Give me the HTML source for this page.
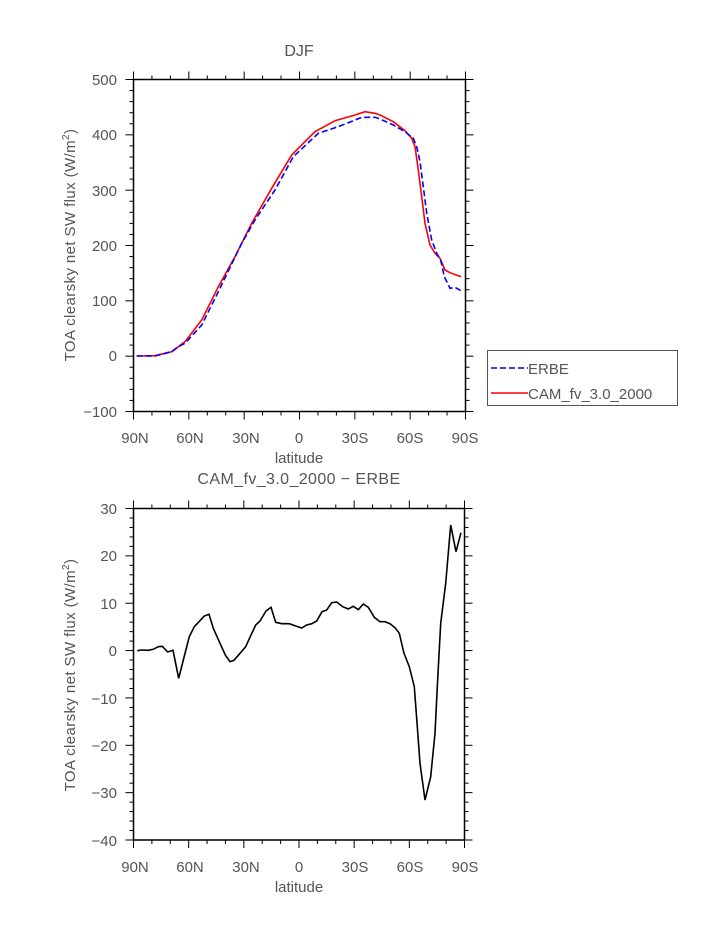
<!DOCTYPE html>
<html><head><meta charset="utf-8"><style>
html,body{margin:0;padding:0;background:#fff;}
svg{display:block;}
text{font-family:"Liberation Sans",sans-serif;fill:#555;}
</style></head><body>
<svg width="723" height="935" viewBox="0 0 723 935" xmlns="http://www.w3.org/2000/svg">
<g id="top">
<text x="299" y="56" font-size="16" text-anchor="middle">DJF</text>
<rect x="133.5" y="79.5" width="332" height="332" fill="none" stroke="#000" stroke-width="1.5"/>
<g font-size="15" text-anchor="end">
<text x="117" y="85">500</text><text x="117" y="140">400</text><text x="117" y="196">300</text>
<text x="117" y="251">200</text><text x="117" y="306">100</text><text x="117" y="361">0</text><text x="117" y="417">−100</text>
</g>
<g font-size="15" text-anchor="middle">
<text x="135" y="443">90N</text><text x="190" y="443">60N</text><text x="246" y="443">30N</text>
<text x="299" y="443">0</text><text x="355" y="443">30S</text><text x="410" y="443">60S</text><text x="465" y="443">90S</text>
<text x="299" y="463">latitude</text>
</g>
<text transform="translate(75,245) rotate(-90)" font-size="15" letter-spacing="0.4" text-anchor="middle">TOA clearsky net SW flux (W/m<tspan font-size="10" dy="-6">2</tspan><tspan dy="6">)</tspan></text>
<polyline fill="none" stroke="#ff0000" stroke-width="1.6" points="136.7,356 155,355.7 171.7,351.7 185,341.7 201.7,320 218.3,286.7 235,256.7 251.7,223.3 271.7,188.3 291.7,155 315,131.7 335,120.7 355,115 365,111.7 375,113.3 380,115 393.3,121.7 405,130.7 411.7,138.3 415,146.7 418.3,170 421.7,196.7 425,223.3 430,245 435,253.3 440,258.3 445,270 450,272.7 461,276.7"/>
<polyline fill="none" stroke="#0000ff" stroke-width="1.6" stroke-dasharray="6,3" points="136.7,356 155,356 171.7,351.7 178.3,346.7 185,343.3 201.7,325 218.3,291.7 241.7,243.3 255,220 275,190 293.3,156.7 318.3,133.3 338.3,126.7 361.7,117.3 375,117.3 380,119 393.3,125 405,131.7 413.3,138.3 416.7,146.7 420,161.7 423.3,186.7 426.7,213.3 431.7,240 436.7,253.3 440.7,260 444.3,276.7 450,288.3 455,287.3 461,290.7"/>
<rect x="487.5" y="350.5" width="190" height="55" fill="#fff" stroke="#555" stroke-width="1"/>
<line x1="491" y1="368" x2="528" y2="368" stroke="#0000ff" stroke-width="1.6" stroke-dasharray="6,3"/>
<line x1="491" y1="393" x2="528" y2="393" stroke="#ff0000" stroke-width="1.6"/>
<text x="528" y="374" font-size="15">ERBE</text>
<text x="528" y="399" font-size="15">CAM_fv_3.0_2000</text>
</g>
<g id="bot">
<text x="299" y="484" font-size="16" text-anchor="middle" letter-spacing="0.4">CAM_fv_3.0_2000 − ERBE</text>
<rect x="133.5" y="508.5" width="331" height="331.5" fill="none" stroke="#000" stroke-width="1.5"/>
<g font-size="15" text-anchor="end">
<text x="117" y="514">30</text><text x="117" y="561">20</text><text x="117" y="609">10</text>
<text x="117" y="656">0</text><text x="117" y="704">−10</text><text x="117" y="751">−20</text>
<text x="117" y="798">−30</text><text x="117" y="846">−40</text>
</g>
<g font-size="15" text-anchor="middle">
<text x="135" y="872">90N</text><text x="190" y="872">60N</text><text x="246" y="872">30N</text>
<text x="299" y="872">0</text><text x="355" y="872">30S</text><text x="410" y="872">60S</text><text x="465" y="872">90S</text>
<text x="299" y="892">latitude</text>
</g>
<text transform="translate(75,675) rotate(-90)" font-size="15" letter-spacing="0.4" text-anchor="middle">TOA clearsky net SW flux (W/m<tspan font-size="10" dy="-6">2</tspan><tspan dy="6">)</tspan></text>
<polyline fill="none" stroke="#000" stroke-width="1.6" points="137.3,650.7 141.7,650 148.3,650.3 153.3,649.3 158.3,646.7 162.3,646.3 167.7,652 173,650.3 178.7,678.3 183.3,660 189.3,636.7 194.3,626.7 200,620.7 204.3,616 209,614.3 213.3,628.3 220,643.3 225.3,655 230,661.7 234,660.3 240,653.3 245.7,646.7 250.7,635.7 255.7,625 260,621 266,611 271,607.3 275.7,622.3 281.7,623.7 289.3,623.7 295.7,626 301.7,628 306.7,625 311.7,623.7 316.7,621 322,611.7 326.7,610 331.7,602.7 336.7,602 342.7,606.7 348.3,609 353.3,606.3 358.3,609.7 363.3,604 368.3,607.3 374.3,617.3 380,621.7 385,621.7 390,623.7 395,627.7 399.3,633.3 404,653.3 409.3,666.7 414.3,686.7 417.3,726.7 420,763.3 425,800 430.7,776.7 435,733.3 437.3,686.7 440.7,623.3 445.7,583.3 450.7,525 456,551.7 461,532.7"/>
</g>
<g id="ticks" stroke="#000" stroke-width="1"></g>
<script>
(function(){
var ns="http://www.w3.org/2000/svg",g=document.getElementById("ticks");
function L(x1,y1,x2,y2){var l=document.createElementNS(ns,"line");l.setAttribute("x1",x1);l.setAttribute("y1",y1);l.setAttribute("x2",x2);l.setAttribute("y2",y2);g.appendChild(l);}
function axes(x0,x1,y0,y1,ymin,ymax,ymaj,ymin_step){
 for(var d=0;d<=180;d+=10){var x=x0+(x1-x0)*d/180,maj=d%30==0,len=maj?8:4;L(x,y0,x,y0-len);L(x,y1,x,y1+len);}
 for(var v=ymin;v<=ymax+1e-6;v+=ymin_step){var y=y1-(y1-y0)*(v-ymin)/(ymax-ymin),maj=Math.abs(Math.round(v/ymaj)*ymaj-v)<1e-6,len=maj?8:4;L(x0,y,x0-len,y);L(x1,y,x1+len,y);}
}
axes(133.5,465.5,79.5,411.5,-100,500,100,20);
axes(133.5,464.5,508.5,840,-40,30,10,2);
})();
</script>
</svg>
</body></html>
